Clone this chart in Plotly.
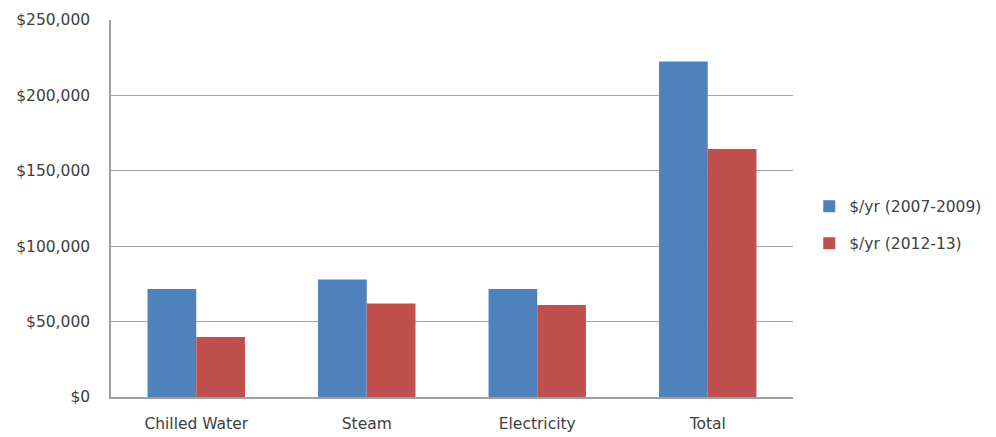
import plotly.graph_objects as go

categories = ["Chilled Water", "Steam", "Electricity", "Total"]
series_names = ["$/yr (2007-2009)", "$/yr (2012-13)"]
values_2007_2009 = [71600, 78000, 71600, 222500]
values_2012_13 = [39800, 62000, 61000, 164500]
y_tick_vals = [0, 50000, 100000, 150000, 200000, 250000]
y_tick_text = ["$0", "$50,000", "$100,000", "$150,000", "$200,000", "$250,000"]

colors = ["#4F81BD", "#C0504D"]

fig = go.Figure()
for name, vals, col, grp in zip(series_names, [values_2007_2009, values_2012_13], colors, ["a", "b"]):
    fig.add_trace(go.Bar(x=categories, y=vals, name=name, marker=dict(color=col, line=dict(width=0)),
                         legendgroup=grp))

font = dict(family="DejaVu Sans, sans-serif", size=15.5, color="#404040")
fig.update_layout(
    width=996, height=437,
    margin=dict(l=111, r=203, t=20, b=40, autoexpand=False),
    paper_bgcolor="white", plot_bgcolor="white",
    barmode="group", bargap=0.4286, bargroupgap=0,
    font=font,
    legend=dict(xref="container", yref="container", x=0.8125, xanchor="left", y=0.485, yanchor="middle",
                font=font, tracegroupgap=14, bgcolor="rgba(0,0,0,0)"),
    showlegend=True,
)
fig.update_xaxes(showgrid=False, showline=True, linecolor="#A0A0A0", linewidth=1.5,
                 ticks="", ticklabelstandoff=12, tickfont=font, automargin=False)
fig.update_yaxes(range=[0, 250000], tickvals=y_tick_vals, ticktext=y_tick_text,
                 showgrid=True, gridcolor="#A6A6A6", gridwidth=1.3,
                 showline=True, linecolor="#A0A0A0", linewidth=1.5, mirror=False,
                 zeroline=False, ticks="", ticklabelstandoff=16, tickfont=font, automargin=False)

fig.write_html("out.html")
